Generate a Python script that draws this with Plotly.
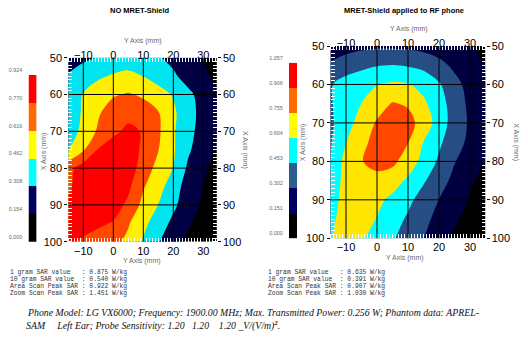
import plotly.graph_objects as go

W, H = 528, 344

# Scan grid (mm): horizontal = phantom "Y Axis", vertical = phantom "X Axis"
scan_y_mm = [-15, -10, -5, 0, 5, 10, 15, 20, 25, 30, 35]
scan_x_mm = [50, 55, 60, 65, 70, 75, 80, 85, 90, 95, 100]

# Area-scan SAR (W/kg), rows follow scan_x_mm, columns follow scan_y_mm
sar_no_shield = [
    [0.25, 0.28, 0.315, 0.37, 0.40, 0.38, 0.32, 0.27, 0.21, 0.148, 0.10],
    [0.32, 0.38, 0.44, 0.475, 0.49, 0.46, 0.40, 0.33, 0.25, 0.18, 0.12],
    [0.36, 0.47, 0.54, 0.60, 0.63, 0.59, 0.52, 0.45, 0.34, 0.25, 0.155],
    [0.40, 0.475, 0.60, 0.69, 0.73, 0.70, 0.625, 0.49, 0.36, 0.26, 0.16],
    [0.39, 0.50, 0.64, 0.74, 0.80, 0.76, 0.64, 0.48, 0.35, 0.25, 0.15],
    [0.45, 0.60, 0.78, 0.84, 0.85, 0.74, 0.62, 0.48, 0.33, 0.22, 0.13],
    [0.72, 0.84, 0.86, 0.87, 0.84, 0.71, 0.56, 0.46, 0.28, 0.18, 0.10],
    [0.74, 0.86, 0.90, 0.88, 0.80, 0.63, 0.52, 0.38, 0.24, 0.15, 0.08],
    [0.80, 0.86, 0.86, 0.83, 0.74, 0.57, 0.46, 0.34, 0.22, 0.13, 0.07],
    [0.82, 0.82, 0.79, 0.76, 0.63, 0.50, 0.39, 0.27, 0.17, 0.10, 0.06],
    [0.79, 0.75, 0.72, 0.66, 0.58, 0.45, 0.32, 0.21, 0.13, 0.08, 0.05],
]
sar_shield = [
    [0.22, 0.25, 0.27, 0.28, 0.28, 0.27, 0.25, 0.22, 0.19, 0.16, 0.12],
    [0.32, 0.37, 0.41, 0.445, 0.455, 0.44, 0.41, 0.35, 0.27, 0.19, 0.145],
    [0.44, 0.52, 0.57, 0.60, 0.625, 0.615, 0.56, 0.47, 0.35, 0.25, 0.165],
    [0.44, 0.53, 0.605, 0.69, 0.765, 0.74, 0.63, 0.52, 0.38, 0.27, 0.18],
    [0.43, 0.54, 0.67, 0.77, 0.82, 0.80, 0.70, 0.53, 0.39, 0.28, 0.19],
    [0.44, 0.60, 0.72, 0.80, 0.83, 0.76, 0.60, 0.48, 0.36, 0.27, 0.17],
    [0.45, 0.66, 0.75, 0.79, 0.79, 0.68, 0.56, 0.43, 0.31, 0.22, 0.145],
    [0.50, 0.66, 0.72, 0.72, 0.67, 0.58, 0.47, 0.37, 0.26, 0.17, 0.11],
    [0.54, 0.66, 0.68, 0.64, 0.57, 0.49, 0.39, 0.30, 0.22, 0.14, 0.09],
    [0.58, 0.65, 0.64, 0.60, 0.52, 0.43, 0.34, 0.26, 0.17, 0.11, 0.07],
    [0.60, 0.64, 0.62, 0.55, 0.47, 0.38, 0.305, 0.21, 0.13, 0.08, 0.05],
]

# Legend levels and band colours
levels_no_shield = [0.000, 0.154, 0.308, 0.462, 0.616, 0.770, 0.924]
colors_no_shield = ["#000000", "#00005e", "#00ffff", "#ffff00", "#ff6a00", "#ff0000"]
levels_shield = [0.000, 0.151, 0.302, 0.453, 0.604, 0.755, 0.906, 1.057]
colors_shield = ["#000000", "#00005e", "#2d5e8c", "#00ffff", "#ffff00", "#ff6a00", "#ff0000"]

panel_titles = ["NO MRET-Shield", "MRET-Shield applied to RF phone"]
h_ticks = [-10, 0, 10, 20, 30]
v_ticks = [50, 60, 70, 80, 90, 100]

sar_labels = ["1 gram SAR value", "10 gram SAR value", "Area Scan Peak SAR", "Zoom Scan Peak SAR"]
sar_values_no_shield = ["0.875", "0.540", "0.922", "1.451"]
sar_values_shield = ["0.635", "0.391", "0.907", "1.030"]

caption_lines = [
    "Phone Model: LG VX6000; Frequency: 1900.00 MHz; Max. Transmitted Power: 0.256 W; Phantom data: APREL-",
    "SAM     Left Ear; Probe Sensitivity: 1.20   1.20    1.20 _V/(V/m)<sup><b>2</b></sup>.",
]

FONT = "Liberation Sans, Arial, sans-serif"
GREY = "#6a6a6a"


def px_x(p):
    return p / W


def px_y(p):
    return 1 - p / H


def band_colorscale(colors):
    n = len(colors)
    cs = [[0.0, colors[0]]]
    for i, c in enumerate(colors):
        cs.append([(i + 0.5) / n, c])
    cs.append([1.0, colors[-1]])
    return cs


def ref(letter, i):
    return letter if i == 1 else f"{letter}{i}"


def key(letter, i):
    return ("xaxis" if letter == "x" else "yaxis") + ("" if i == 1 else str(i))


# pixel frames of the two maps and their legend bars: (left, right, top, bottom)
panels = [
    dict(frame=(68.3, 216.8, 57.7, 241.7), hrange=[-15, 34.5], bar=(28.5, 36.7, 75, 241.7),
         z=sar_no_shield, levels=levels_no_shield, colors=colors_no_shield),
    dict(frame=(330.5, 485.5, 46.0, 238.3), hrange=[-15, 35], bar=(289, 297.3, 62.7, 238.3),
         z=sar_shield, levels=levels_shield, colors=colors_shield),
]

fig = go.Figure()
layout = dict(template="none", width=W, height=H,
              margin=dict(l=0, r=0, t=0, b=0, autoexpand=False),
              paper_bgcolor="white", plot_bgcolor="white", showlegend=False,
              font=dict(family=FONT, color="black"))
shapes, annotations = [], []

minor_ticks = dict(ticks="inside", dtick=1, tick0=0, ticklen=4, tickwidth=1, tickcolor="white")
tickfont = dict(family=FONT, size=11, color="black")

for k, p in enumerate(panels):
    l, r, t, b = p["frame"]
    xd = [px_x(l), px_x(r)]
    yd = [px_y(b), px_y(t)]
    n = 3 * k
    ib, it, ic = n + 1, n + 2, n + 3

    lv = p["levels"]
    step = lv[1] - lv[0]
    fig.add_trace(go.Contour(
        x=scan_y_mm, y=scan_x_mm, z=p["z"], xaxis=ref("x", ib), yaxis=ref("y", ib),
        zmin=lv[0], zmax=lv[-1], zauto=False, autocontour=False,
        colorscale=band_colorscale(p["colors"]), showscale=False,
        contours=dict(start=lv[1], end=lv[-2], size=step, coloring="fill", showlines=False),
        line=dict(width=0), hoverinfo="skip"))
    # companion axes (top / right) need a trace to be drawn
    fig.add_trace(go.Scatter(x=[None], y=[None], xaxis=ref("x", it), yaxis=ref("y", it),
                             hoverinfo="skip"))

    common_h = dict(domain=xd, range=p["hrange"], tickvals=h_ticks, ticks="",
                    showgrid=False, zeroline=False, showline=False, minor=minor_ticks,
                    tickfont=tickfont, fixedrange=True, automargin=False)
    common_v = dict(domain=yd, range=[100, 50], tickvals=v_ticks, ticks="outside",
                    ticklen=3, tickcolor="black", showgrid=False, zeroline=False,
                    showline=False, minor=minor_ticks, tickfont=tickfont, fixedrange=True,
                    automargin=False)
    layout[key("x", ib)] = dict(common_h, anchor=ref("y", ib), side="bottom",
                                ticklabelstandoff=1)
    layout[key("x", it)] = dict(common_h, anchor=ref("y", it), side="top",
                                overlaying=ref("x", ib), ticklabelstandoff=-4)
    layout[key("y", ib)] = dict(common_v, anchor=ref("x", ib), side="left")
    layout[key("y", it)] = dict(common_v, anchor=ref("x", it), side="right",
                                overlaying=ref("y", ib))

    # grid drawn over the filled contours
    for h in h_ticks:
        shapes.append(dict(type="line", xref=ref("x", ib), yref=ref("y", ib) + " domain",
                           x0=h, x1=h, y0=0, y1=1,
                           line=dict(color="black", width=1), layer="above"))
    for v in v_ticks[1:-1]:
        shapes.append(dict(type="line", xref=ref("x", ib) + " domain", yref=ref("y", ib),
                           x0=0, x1=1, y0=v, y1=v,
                           line=dict(color="black", width=1), layer="above"))

    # legend bar
    bl, br, bt, bb = p["bar"]
    mids = [[(lv[i] + lv[i + 1]) / 2] for i in range(len(lv) - 1)]
    fig.add_trace(go.Heatmap(x=[0, 1], y=lv, z=mids, zmin=lv[0], zmax=lv[-1],
                             colorscale=band_colorscale(p["colors"]), showscale=False,
                             xaxis=ref("x", ic), yaxis=ref("y", ic), hoverinfo="skip"))
    layout[key("x", ic)] = dict(domain=[px_x(bl), px_x(br)], range=[0, 1], visible=False,
                                anchor=ref("y", ic), fixedrange=True, automargin=False)
    layout[key("y", ic)] = dict(domain=[px_y(bb), px_y(bt)], range=[lv[0], lv[-1]],
                                anchor=ref("x", ic), side="left", tickvals=lv,
                                ticktext=[f"{v:.3f}" for v in lv],
                                ticks="outside", ticklen=4, tickcolor="rgba(0,0,0,0)",
                                ticklabelshift=-5, showgrid=False, zeroline=False,
                                showline=False, automargin=False,
                                tickfont=dict(family=FONT, size=5.5, color=GREY),
                                fixedrange=True)


def ann(**kw):
    opts = dict(xref="paper", yref="paper", showarrow=False, xanchor="center", yanchor="middle")
    opts.update(kw)
    annotations.append(opts)


# titles and axis captions
ann(x=px_x(140), y=px_y(10), text=f"<b>{panel_titles[0]}</b>",
    font=dict(family=FONT, size=7.5, color="black"))
ann(x=px_x(404), y=px_y(10), text=f"<b>{panel_titles[1]}</b>",
    font=dict(family=FONT, size=7.5, color="black"))

axfont = dict(family=FONT, size=7, color=GREY)
for (x, y) in [(143, 41), (408.5, 29), (141.7, 261), (405, 258)]:
    ann(x=px_x(x), y=px_y(y), text="Y Axis (mm)", font=axfont)
for (x, y, a) in [(44.3, 151, -90), (245, 150, 90), (303.3, 142, -90), (515.7, 142, 90)]:
    ann(x=px_x(x), y=px_y(y), text="X Axis (mm)", textangle=a, font=axfont)

# SAR summary blocks
monofont = dict(family="Liberation Mono, Courier New, monospace", size=6.3, color="#333333")
width = max(len(s) for s in sar_labels)
for x0, vals in [(8, sar_values_no_shield), (266, sar_values_shield)]:
    for i, (lab, val) in enumerate(zip(sar_labels, vals)):
        line = (lab.ljust(width) + " : " + val + " W/kg").replace(" ", "\u00a0")
        ann(x=px_x(x0), y=px_y(272 + 7 * i), text=line, xanchor="left", font=monofont)

capfont = dict(family="Liberation Serif, Times New Roman, serif", size=9.8, color="#111111")
for i, (x0, y0) in enumerate([(25, 312), (23.5, 325)]):
    ann(x=px_x(x0), y=px_y(y0), text="<i>" + caption_lines[i].replace(" ", "\u00a0") + "</i>",
        xanchor="left", font=capfont)

layout["shapes"] = shapes
layout["annotations"] = annotations
fig.update_layout(**layout)
fig.write_html("out.html")
